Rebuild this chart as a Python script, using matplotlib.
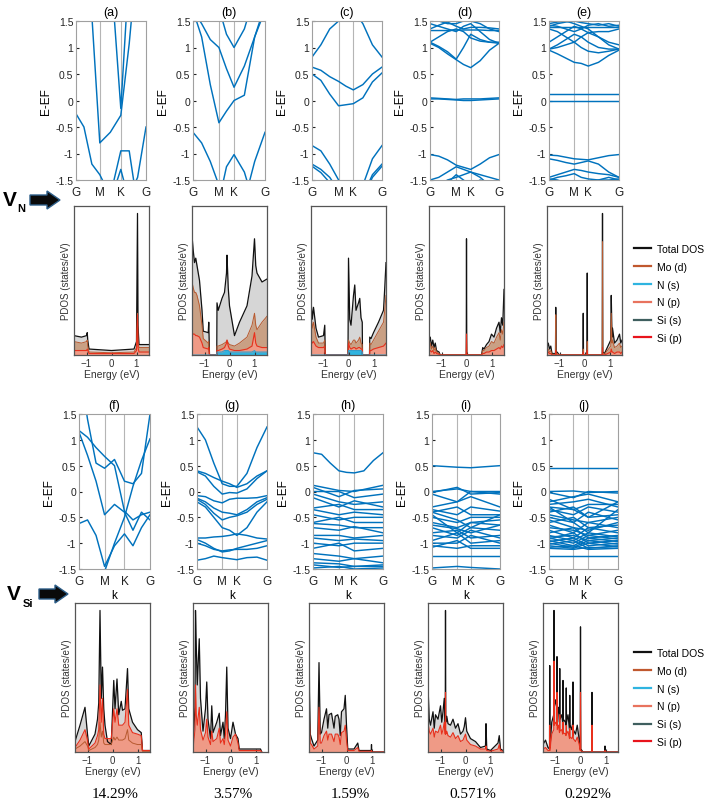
import matplotlib
matplotlib.use('Agg')
import matplotlib.pyplot as plt
from matplotlib.lines import Line2D
from matplotlib.patches import FancyArrow

plt.rcParams['font.family'] = ['Liberation Sans', 'DejaVu Sans']

W, H = 709, 803

# ---------------- band structures (E - EF, eV) ----------------
# 9 values: G, G-M 1/3, G-M 2/3, M, M-K mid, K, K-G 1/3, K-G 2/3, G
# 4 values: G, M, K, G
bands_a = [
    [-0.25, -0.5, -1.2, -1.4, -1.8, -1.9, -1.8, -1.45, -0.5],
    [6, 4, 1.6, -0.8, -0.6, -0.28, 1.07, 2.8, 5],
    [6, 5, 4, 3.5, 2.6, -0.15, 2.5, 4.5, 6],
    [-3, -3, -3, -2.5, -1.8, -0.95, -0.95, -2.0, -3],
    [-3, -3, -3, -2.5, -1.9, -1.3, -1.9, -3, -3],
]
bands_b = [
    [1.7, 1.45, 1.15, 1.0, 0.6, 0.25, 0.65, 1.2, 1.7],
    [4, 3.5, 2.8, 1.75, 1.25, 1.0, 1.35, 2.0, 3],
    [1.7, 1.2, 0.3, -0.42, -0.2, 0.0, 0.1, 1.2, 1.8],
    [-0.6, -0.8, -1.15, -1.6, -1.9, -2.0, -1.9, -1.15, -0.6],
    [-3, -3, -3, -1.9, -1.25, -1.02, -1.35, -2.0, -3],
]
bands_c = [
    [0.82, 1.05, 1.35, 1.5, 1.7, 1.7, 1.45, 1.05, 0.82],
    [0.63, 0.57, 0.45, 0.36, 0.27, 0.2, 0.3, 0.5, 0.63],
    [0.5, 0.38, 0.12, -0.1, -0.08, -0.06, 0.05, 0.35, 0.52],
    [-0.85, -0.95, -1.2, -1.5, -1.8, -1.9, -1.6, -1.1, -0.85],
    [-1.2, -1.3, -1.45, -1.7, -2.0, -2.0, -1.8, -1.4, -1.2],
    [-1.24, -1.36, -1.55, -1.8, -2.0, -2.0, -1.85, -1.45, -1.24],
]
bands_d = [
    [0.03, 0.03, 0.02, 0.01, 0.0, 0.0, 0.01, 0.02, 0.03],
    [0.05, 0.04, 0.03, 0.02, 0.03, 0.03, 0.03, 0.04, 0.05],
    [-1.02, -1.05, -1.12, -1.22, -1.26, -1.3, -1.2, -1.08, -1.02],
    [-1.5, -1.45, -1.35, -1.25, -1.3, -1.35, -1.4, -1.45, -1.5],
    [-1.7, -1.6, -1.5, -1.45, -1.4, -1.35, -1.45, -1.6, -1.7],
    [-1.8, -1.7, -1.55, -1.4, -1.5, -1.6, -1.5, -1.55, -1.6],
    [1.08, 1.0, 0.88, 0.77, 0.68, 0.62, 0.75, 0.95, 1.08],
    [1.1, 1.02, 0.92, 0.78, 1.0, 1.25, 1.15, 1.1, 1.08],
    [1.32, 1.32, 1.32, 1.33, 1.33, 1.33, 1.33, 1.32, 1.32],
    [1.1, 1.2, 1.3, 1.35, 1.3, 1.18, 1.12, 1.1, 1.1],
    [1.35, 1.42, 1.48, 1.4, 1.35, 1.38, 1.38, 1.37, 1.35],
    [1.45, 1.4, 1.35, 1.3, 1.4, 1.45, 1.3, 1.15, 1.08],
    [1.5, 1.5, 1.45, 1.45, 1.5, 1.5, 1.45, 1.35, 1.3],
]
bands_e = [
    [0.12, 0.12, 0.12, 0.12, 0.12, 0.12, 0.12, 0.12, 0.12],
    [0.0, 0.0, 0.0, 0.0, 0.0, 0.0, 0.0, 0.0, 0.0],
    [-1.03, -1.04, -1.07, -1.1, -1.11, -1.12, -1.08, -1.04, -1.02],
    [-1.1, -1.13, -1.17, -1.2, -1.17, -1.14, -1.2, -1.35, -1.45],
    [-1.45, -1.4, -1.35, -1.3, -1.32, -1.35, -1.38, -1.4, -1.45],
    [-1.5, -1.45, -1.42, -1.38, -1.45, -1.48, -1.5, -1.5, -1.48],
    [-1.48, -1.5, -1.55, -1.6, -1.6, -1.55, -1.5, -1.45, -1.5],
    [0.95, 0.88, 0.8, 0.72, 0.7, 0.65, 0.72, 0.85, 0.95],
    [0.97, 1.0, 1.05, 1.1, 1.0, 0.93, 0.9, 0.93, 0.97],
    [0.97, 1.05, 1.15, 1.25, 1.2, 1.1, 1.0, 0.97, 0.97],
    [1.35, 1.3, 1.2, 1.1, 1.2, 1.28, 1.3, 1.3, 1.35],
    [1.38, 1.38, 1.38, 1.38, 1.38, 1.38, 1.38, 1.38, 1.38],
    [1.42, 1.4, 1.35, 1.3, 1.35, 1.42, 1.45, 1.4, 1.42],
    [1.45, 1.48, 1.5, 1.45, 1.4, 1.35, 1.2, 1.05, 0.97],
    [1.4, 1.45, 1.48, 1.5, 1.47, 1.45, 1.42, 1.45, 1.4],
    [1.1, 1.2, 1.3, 1.4, 1.35, 1.28, 1.2, 1.1, 1.05],
]
bands_f = [
    [2.5, 1.4, 0.55, 0.45, 0.62, 0.2, 0.15, 0.35, 1.5],
    [1.18, 1.05, 0.85, 0.68, 0.5, -0.38, -0.55, -0.45, -0.4],
    [1.15, 0.7, 0.2, -0.45, -0.25, -0.4, -0.75, -0.4, -0.55],
    [-0.62, -0.55, -0.85, -1.45, -1.05, -0.82, -1.05, -0.7, -0.45],
    [-4, -3, -2.2, -1.55, -1.0, -0.5, 0.1, 0.6, 1.02],
]
bands_g = [
    [1.25, 1.0, 0.55, 0.15, 0.1, 0.1, 0.35, 0.85, 1.25],
    [0.4, 0.35, 0.27, 0.2, 0.15, 0.08, 0.15, 0.3, 0.4],
    [0.38, 0.3, 0.1, -0.05, -0.02, -0.03, 0.05, 0.25, 0.4],
    [-0.08, -0.1, -0.18, -0.22, -0.15, -0.13, -0.13, -0.12, -0.08],
    [-0.13, -0.2, -0.32, -0.4, -0.42, -0.45, -0.35, -0.2, -0.12],
    [-0.15, -0.25, -0.42, -0.55, -0.5, -0.47, -0.4, -0.25, -0.15],
    [-0.2, -0.3, -0.5, -0.7, -0.75, -0.85, -0.7, -0.4, -0.2],
    [-0.9, -0.9, -0.88, -0.87, -0.85, -0.82, -0.85, -0.9, -0.92],
    [-0.93, -1.0, -1.1, -1.17, -1.15, -1.1, -1.05, -1.0, -0.95],
    [-1.0, -1.05, -1.12, -1.15, -1.13, -1.12, -1.12, -1.1, -1.05],
    [-1.33, -1.3, -1.25, -1.28, -1.3, -1.32, -1.28, -1.27, -1.33],
]
bands_h = [
    [0.75, 0.72, 0.55, 0.4, 0.37, 0.36, 0.4, 0.6, 0.75],
    [0.12, 0.02, 0.0, 0.12], [0.08, -0.1, 0.02, 0.05], [0.0, 0.0, -0.12, -0.05],
    [-0.05, -0.2, -0.25, -0.2], [-0.12, -0.3, -0.18, -0.3], [-0.32, -0.25, -0.35, -0.35],
    [-0.35, -0.45, -0.4, -0.45], [-0.45, -0.55, -0.5, -0.5], [-0.6, -0.5, -0.6, -0.6],
    [-0.62, -0.65, -0.7, -0.7], [-0.7, -0.75, -0.68, -0.8], [-0.85, -0.85, -0.9, -0.85],
    [-0.9, -0.95, -0.92, -0.95], [-1.0, -1.05, -1.0, -1.0], [-1.1, -1.0, -1.15, -1.1],
    [-1.2, -1.25, -1.3, -1.25], [-1.3, -1.35, -1.3, -1.38], [-1.38, -1.4, -1.45, -1.42],
    [-1.42, -1.47, -1.45, -1.45], [-1.48, -1.45, -1.5, -1.48],
]
bands_i = [
    [0.5, 0.47, 0.46, 0.5], [0.0, 0.05, 0.0, 0.0], [-0.02, 0.08, -0.05, -0.02],
    [-0.05, -0.2, 0.0, -0.05], [-0.3, -0.2, -0.1, -0.3], [-0.35, -0.45, -0.3, -0.38],
    [-0.4, -0.3, -0.45, -0.45], [-0.5, -0.6, -0.5, -0.5], [-0.6, -0.7, -0.6, -0.55],
    [-0.65, -0.72, -0.8, -0.65], [-0.7, -0.85, -0.7, -0.75], [-0.8, -0.75, -0.9, -0.85],
    [-0.85, -0.9, -0.75, -0.9], [-0.95, -0.8, -1.0, -0.95], [-1.0, -1.0, -0.85, -1.0],
    [-1.05, -1.1, -1.05, -1.05], [-1.08, -0.95, -1.1, -1.1], [-1.25, -1.25, -1.25, -1.25],
    [-1.48, -1.45, -1.47, -1.5], [-0.4, -0.55, -0.7, -0.45], [-0.45, -0.8, -0.6, -0.65],
]
bands_j = [
    [0.46, 0.46, 0.46, 0.46], [0.0, 0.01, -0.02, 0.0], [-0.02, -0.12, 0.0, -0.03],
    [-0.2, -0.1, -0.05, -0.2], [-0.25, -0.2, -0.15, -0.3], [-0.3, -0.35, -0.25, -0.25],
    [-0.35, -0.45, -0.3, -0.4], [-0.4, -0.3, -0.5, -0.45], [-0.45, -0.55, -0.6, -0.5],
    [-0.5, -0.6, -0.4, -0.55], [-0.55, -0.7, -0.75, -0.6], [-0.6, -0.5, -0.7, -0.65],
    [-0.65, -0.8, -0.6, -0.7], [-0.7, -0.75, -0.85, -0.75], [-0.75, -0.9, -0.7, -0.8],
    [-0.8, -0.7, -0.9, -0.85], [-0.85, -0.95, -0.8, -0.88], [-0.88, -0.85, -0.95, -0.9],
    [-0.9, -1.0, -0.85, -0.92], [-0.92, -0.8, -1.0, -0.95], [-0.95, -1.05, -0.9, -0.97],
    [-0.97, -0.9, -1.05, -1.0], [-1.0, -1.08, -0.95, -1.02], [-1.02, -0.95, -1.1, -1.05],
    [-1.05, -1.1, -1.0, -1.07], [-1.08, -1.05, -1.12, -1.1], [-1.1, -1.12, -1.08, -1.1],
    [-1.25, -1.25, -1.25, -1.25], [-0.15, -0.35, -0.5, -0.2], [-0.3, -0.6, -0.8, -0.35],
]

# high-symmetry point positions (fraction of path) per panel: (M, K)
kpts = {'a': (0.34, 0.64), 'b': (0.36, 0.57), 'c': (0.38, 0.59), 'd': (0.38, 0.59),
        'e': (0.36, 0.56), 'f': (0.36, 0.64), 'g': (0.36, 0.57), 'h': (0.37, 0.59),
        'i': (0.37, 0.57), 'j': (0.355, 0.57)}

# ---------------- PDOS (arbitrary units, % of axis height) ----------------
E_a = [-1.5, -1.2, -1.0, -0.97, -0.95, -0.9, 0, 0.9, 1.0, 1.04, 1.06, 1.1, 1.5]
tot_a = [13, 12, 13, 15, 10, 4, 3, 4, 9, 95, 20, 7, 7]
mod_a = [9, 8, 9, 10, 6, 2, 1.5, 2, 5, 28, 8, 5, 5]
red_a = [3, 3, 3, 4, 3, 1, 1, 1, 3, 27, 5, 2, 2]

E_b = [-1.5, -1.45, -1.4, -1.35, -1.3, -1.2, -1.1, -1.05, -0.85, -0.83, -0.8, -0.79, -0.51,
       -0.5, -0.45, -0.3, -0.2, -0.12, -0.1, -0.05, 0.0, 0.2, 0.4, 0.7, 0.9, 1.0, 1.05, 1.1, 1.3, 1.5]
tot_b = [80, 70, 62, 65, 60, 50, 30, 16, 15, 22, 0, 0, 0, 35, 30, 38, 42, 55, 67, 45, 33, 13,
         22, 33, 53, 78, 60, 55, 49, 51]
mod_b = [49, 45, 42, 42, 40, 33, 20, 11, 8, 9, 0, 0, 0, 6, 6, 7, 8, 9, 10, 8, 7, 6, 8, 12, 20,
         28, 20, 17, 22, 26]
red_b = [15, 14, 14, 13, 13, 12, 8, 5, 4, 5, 0, 0, 0, 3, 3, 4, 5, 8, 10, 6, 4, 3, 3, 4, 6, 15,
         8, 6, 5, 5]
ns_b = [0, 0, 0, 0, 0, 0, 0, 0, 0, 0, 0, 0, 0, 2, 2, 2, 3, 3, 3, 3, 2, 2, 2, 2, 2, 3, 2, 2, 2, 2]

E_c = [-1.5, -1.45, -1.4, -1.3, -1.2, -1.0, -0.95, -0.93, -0.92, -0.02, 0.0, 0.05, 0.1, 0.2,
       0.25, 0.3, 0.4, 0.45, 0.5, 0.55, 0.56, 0.84, 0.85, 0.9, 1.0, 1.2, 1.4, 1.45, 1.5]
tot_c = [37, 24, 32, 18, 12, 13, 20, 0, 0, 0, 65, 24, 20, 40, 47, 30, 35, 38, 25, 22, 0, 0,
         12, 11, 15, 22, 30, 45, 62]
mod_c = [28, 18, 22, 12, 8, 8, 10, 0, 0, 0, 10, 8, 7, 10, 10, 8, 10, 12, 8, 7, 0, 0, 8, 7, 10,
         16, 22, 30, 40]
red_c = [10, 8, 9, 6, 5, 5, 6, 0, 0, 0, 8, 5, 4, 5, 5, 4, 5, 5, 4, 4, 0, 0, 3, 3, 4, 5, 6, 7, 8]
ns_c = [0, 0, 0, 0, 0, 0, 0, 0, 0, 0, 3, 3, 3, 3, 3, 3, 3, 3, 3, 2, 0, 0, 0, 0, 0, 0, 0, 0, 0]

E_d = [-1.5, -1.45, -1.4, -1.35, -1.3, -1.25, -1.2, -1.1, -1.05, -0.02, -0.01, 0.0, 0.01, 0.02,
       0.6, 0.65, 0.7, 0.8, 0.9, 1.0, 1.1, 1.2, 1.3, 1.35, 1.4, 1.45, 1.5]
tot_d = [8, 12, 6, 10, 5, 8, 3, 2, 0, 0, 0, 78, 0, 0, 0, 5, 4, 7, 9, 14, 12, 18, 22, 15, 25, 20, 44]
mod_d = [5, 8, 4, 6, 3, 5, 2, 1, 0, 0, 0, 14, 0, 0, 0, 3, 3, 5, 6, 9, 8, 12, 15, 10, 17, 14, 22]
red_d = [2, 3, 2, 3, 1, 2, 1, 0.5, 0, 0, 0, 14, 0, 0, 0, 1, 1, 2, 2, 3, 3, 4, 5, 4, 6, 5, 7]

E_e = [-1.5, -1.45, -1.4, -1.35, -1.3, -1.16, -1.15, -1.14, -1.1, -1.0, -0.06, -0.05, -0.04,
       0.10, 0.11, 0.12, 0.71, 0.72, 0.73, 0.8, 1.05, 1.07, 1.1, 1.12, 1.2, 1.3, 1.4, 1.45, 1.5]
tot_e = [5, 8, 4, 6, 1, 1, 32, 1, 2, 0, 0, 28, 0, 0, 55, 0, 0, 95, 2, 1, 10, 40, 12, 18, 8, 10,
         14, 8, 10]
mod_e = [3, 4, 2, 3, 0.5, 0.5, 27, 0.5, 1, 0, 0, 4, 0, 0, 9, 0, 0, 76, 1, 0.5, 6, 28, 8, 10, 5,
         6, 8, 5, 6]
red_e = [1, 2, 1, 1, 0, 0, 3, 0, 0, 0, 0, 2, 0, 0, 3, 0, 0, 5, 0, 0, 2, 4, 2, 2, 1, 2, 2, 1, 2]

E_f = [-1.5, -1.3, -1.1, -1.0, -0.95, -0.7, -0.6, -0.55, -0.5, -0.45, -0.4, -0.35, -0.3, -0.2,
       -0.05, 0.05, 0.1, 0.18, 0.25, 0.35, 0.4, 0.5, 0.6, 0.65, 0.8, 1.0, 1.15, 1.2, 1.5]
tot_f = [7, 18, 30, 12, 4, 12, 22, 33, 95, 36, 57, 29, 18, 7, 5, 48, 29, 49, 25, 34, 28, 29, 56,
         29, 20, 15, 13, 1, 1]
mod_f = [2, 4, 7, 4, 1, 3, 5, 8, 20, 10, 14, 6, 5, 5, 5, 10, 8, 10, 8, 8, 8, 9, 15, 8, 6, 5, 5,
         0.5, 0.5]
red_f = [3, 8, 15, 8, 2, 6, 11, 15, 45, 20, 36, 12, 9, 9, 9, 29, 20, 29, 18, 18, 18, 20, 42, 18,
         13, 12, 11, 1, 1]

E_g = [-1.5, -1.42, -1.4, -1.37, -1.33, -1.25, -1.2, -1.1, -1.0, -0.95, -0.9, -0.8, -0.75, -0.7,
       -0.55, -0.45, -0.4, -0.3, -0.25, -0.2, -0.15, -0.1, 0.0, 0.1, 0.2, 0.3, 0.35, 1.2, 1.25]
tot_g = [4, 30, 95, 72, 45, 76, 36, 14, 29, 47, 22, 9, 31, 13, 20, 26, 11, 20, 9, 25, 57, 16, 9,
         20, 12, 9, 2, 2, 0]
red_g = [2, 15, 45, 25, 18, 30, 15, 8, 13, 22, 10, 5, 14, 7, 9, 16, 6, 9, 5, 12, 27, 8, 4, 10,
         12, 6, 1, 1, 0]

E_h = [-1.5, -1.48, -1.45, -1.4, -1.3, -1.15, -1.1, -1.05, -1.0, -0.9, -0.8, -0.75, -0.7, -0.6,
       -0.5, -0.45, -0.35, -0.3, -0.25, -0.2, -0.1, -0.05, 0.0, 0.05, 0.3, 0.45, 0.5, 0.7, 0.99,
       1.0, 1.01, 1.5]
tot_h = [95, 40, 12, 9, 4, 8, 60, 12, 13, 22, 29, 16, 25, 26, 16, 24, 25, 22, 11, 27, 29, 38, 18,
         2, 2, 6, 1, 1, 1, 5, 0, 0]
red_h = [49, 20, 6, 5, 2, 4, 30, 6, 6, 11, 14, 8, 12, 12, 7, 12, 12, 10, 5, 13, 14, 18, 8, 1, 1,
         3, 0.5, 0.5, 0.5, 1, 0, 0]

E_i = [-1.5, -1.45, -1.4, -1.3, -1.25, -1.2, -1.1, -1.0, -0.95, -0.9, -0.85, -0.81, -0.8, -0.79,
       -0.75, -0.7, -0.6, -0.5, -0.4, -0.3, -0.2, -0.1, -0.05, 0.0, 0.05, 0.2, 0.4, 0.6, 0.8,
       0.82, 0.85, 1.0, 1.3, 1.35, 1.4, 1.5]
tot_i = [44, 22, 18, 27, 16, 25, 22, 31, 20, 27, 36, 20, 95, 20, 24, 19, 18, 22, 16, 19, 12, 14,
         17, 23, 14, 9, 7, 3, 4, 19, 2, 1, 6, 11, 2, 1]
red_i = [20, 14, 12, 16, 10, 14, 13, 18, 12, 15, 20, 12, 40, 12, 14, 11, 10, 13, 9, 11, 7, 8, 10,
         12, 8, 5, 4, 2, 2, 4, 1, 0.5, 2, 5, 1, 0.5]

E_j = [-1.5, -1.4, -1.3, -1.24, -1.23, -1.22, -1.15, -1.07, -1.06, -1.05, -1.0, -0.95, -0.94,
       -0.93, -0.88, -0.84, -0.83, -0.82, -0.75, -0.71, -0.7, -0.69, -0.6, -0.58, -0.57, -0.56,
       -0.5, -0.44, -0.43, -0.42, -0.35, -0.31, -0.3, -0.29, -0.2, -0.13, -0.05, -0.01, 0.0,
       0.01, 0.1, 0.45, 0.46, 0.47, 0.97, 0.98, 0.99, 1.5]
tot_j = [5, 8, 3, 2, 58, 3, 20, 25, 95, 30, 35, 30, 64, 25, 30, 20, 56, 22, 25, 20, 48, 22, 20,
         18, 43, 20, 25, 15, 38, 18, 15, 20, 47, 15, 12, 18, 8, 2, 84, 2, 0, 0, 40, 0, 0, 4, 0, 0]
red_j = [2, 3, 1, 1, 18, 1, 12, 15, 61, 18, 20, 18, 40, 15, 18, 13, 25, 14, 15, 12, 20, 13, 12,
         11, 18, 12, 14, 9, 16, 10, 9, 11, 18, 9, 7, 10, 5, 1, 40, 1, 0, 0, 18, 0, 0, 1, 0, 0]

percents = ['14.29%', '3.57%', '1.59%', '0.571%', '0.292%']
legend_labels = ['Total DOS', 'Mo (d)', 'N (s)', 'N (p)', 'Si (s)', 'Si (p)']
legend_colors = ['#111111', '#c0582e', '#2fb4e0', '#e8735e', '#3f5f5f', '#e8141c']

BAND_COLOR = '#0072BD'

fig = plt.figure(figsize=(W / 100, H / 100), dpi=100)


def px_axes(l, t, w, h):
    return fig.add_axes([l / W, 1 - (t + h) / H, w / W, h / H])


def draw_bands(ax, bands, key, show_k):
    M, K = kpts[key]
    fine = [0, M / 3, 2 * M / 3, M, (M + K) / 2, K, K + (1 - K) / 3, K + 2 * (1 - K) / 3, 1]
    for b in bands:
        k = fine if len(b) == 9 else [0, M, K, 1]
        ax.plot(k, b, color=BAND_COLOR, lw=1.05)
    ax.axvline(M, color='#b5b5b5', lw=0.8, zorder=0)
    ax.axvline(K, color='#b5b5b5', lw=0.8, zorder=0)
    ax.set_xlim(0, 1)
    ax.set_ylim(-1.5, 1.5)
    ax.set_xticks([0, M, K, 1])
    ax.set_xticklabels(['G', 'M', 'K', 'G'])
    ax.set_yticks([-1.5, -1, -0.5, 0, 0.5, 1, 1.5])
    ax.set_yticklabels(['-1.5', '-1', '-0.5', '0', '0.5', '1', '1.5'])
    ax.tick_params(axis='x', length=0, labelsize=8.5, pad=4, colors='#222222')
    ax.tick_params(axis='y', direction='in', length=2, labelsize=7.5, pad=2, colors='#222222')
    for s in ax.spines.values():
        s.set_color('#a0a0a0')
        s.set_linewidth(0.8)
    ax.set_ylabel('E-EF', fontsize=8.5, labelpad=2)
    ax.set_title('(%s)' % key, fontsize=9, pad=4)
    if show_k:
        ax.set_xlabel('k', fontsize=8.5, labelpad=2)


def draw_pdos(ax, E, tot, red, mod=None, ns=None):
    ax.fill_between(E, tot, color='#d6d6d6', lw=0)
    if mod is not None:
        ax.fill_between(E, mod, color='#c9a084', lw=0)
    ax.fill_between(E, red, color='#ef9a86', lw=0)
    ax.plot(E, tot, color='#111111', lw=0.9)
    if mod is not None:
        ax.plot(E, mod, color='#b85a30', lw=0.7)
    ax.plot(E, red, color='#e8301c', lw=0.8)
    if ns is not None:
        ax.fill_between(E, ns, color='#2fb4e0', lw=0)
        ax.plot(E, ns, color='#2a9fd0', lw=0.7)
    ax.set_xlim(-1.5, 1.5)
    ax.set_ylim(0, 100)
    ax.set_yticks([])
    ax.set_xticks([-1, 0, 1])
    ax.set_xticklabels(['\u22121', '0', '1'])
    ax.tick_params(axis='x', direction='in', length=2, labelsize=7, pad=2, colors='#333333')
    for s in ax.spines.values():
        s.set_color('#555555')
        s.set_linewidth(0.9)
    ax.set_xlabel('Energy (eV)', fontsize=7.5, labelpad=1, color='#333333')
    ax.set_ylabel('PDOS (states/eV)', fontsize=7, labelpad=2, color='#333333')


# top row band panels
top_band = [(76, 70, 'a', bands_a), (193, 72, 'b', bands_b), (312, 70, 'c', bands_c),
            (430, 69, 'd', bands_d), (549, 70, 'e', bands_e)]
for l, w, key, b in top_band:
    draw_bands(px_axes(l, 22, w, 159), b, key, False)

bot_band = [(79, 71, 'f', bands_f), (197, 70, 'g', bands_g), (313, 70, 'h', bands_h),
            (432, 68, 'i', bands_i), (549, 69, 'j', bands_j)]
for l, w, key, b in bot_band:
    draw_bands(px_axes(l, 415, w, 155), b, key, True)

# PDOS panels
top_pdos = [(74, E_a, tot_a, red_a, mod_a, None), (192, E_b, tot_b, red_b, mod_b, ns_b),
            (311, E_c, tot_c, red_c, mod_c, ns_c), (429, E_d, tot_d, red_d, mod_d, None),
            (547, E_e, tot_e, red_e, mod_e, None)]
for l, E, t, r, m, n in top_pdos:
    draw_pdos(px_axes(l, 207, 75, 149), E, t, r, m, n)

bot_pdos = [(75, E_f, tot_f, red_f, mod_f), (193, E_g, tot_g, red_g, None),
            (309, E_h, tot_h, red_h, None), (428, E_i, tot_i, red_i, None),
            (543, E_j, tot_j, red_j, None)]
for l, E, t, r, m in bot_pdos:
    draw_pdos(px_axes(l, 604, 75, 149), E, t, r, m)

# legends
handles = [Line2D([], [], color=c, lw=1.6) for c in legend_colors]
for ytop in (245, 649):
    fig.legend(handles, legend_labels, loc='upper left', bbox_to_anchor=(634 / W, 1 - ytop / H),
               frameon=False, fontsize=7.5, handlelength=1.6, handletextpad=0.6,
               labelspacing=0.75, borderpad=0, borderaxespad=0)

# percent labels
for x, txt in zip([115, 233, 350, 473, 588], percents):
    fig.text(x / W, 1 - 795 / H, txt, ha='center', va='center', fontsize=11,
             family='Liberation Serif')

# vacancy labels and arrows on an overlay in pixel coordinates
ov = fig.add_axes([0, 0, 1, 1], zorder=-1)
ov.set_xlim(0, W)
ov.set_ylim(H, 0)
ov.axis('off')
ov.text(10, 200, 'V', fontsize=15, fontweight='bold', ha='center', va='center')
ov.text(21, 209, 'N', fontsize=8, fontweight='bold', ha='center', va='center')
ov.add_patch(FancyArrow(30, 201, 17, 0, width=10, head_width=18, head_length=13,
                        length_includes_head=False, facecolor='#0a0a0a', edgecolor='#2e5f8a', lw=1))
ov.text(14, 595, 'V', fontsize=15, fontweight='bold', ha='center', va='center')
ov.text(28, 604, 'Si', fontsize=8, fontweight='bold', ha='center', va='center')
ov.add_patch(FancyArrow(39, 595, 16, 0, width=10, head_width=18, head_length=13,
                        length_includes_head=False, facecolor='#0a0a0a', edgecolor='#2e5f8a', lw=1))

fig.savefig('out.png', dpi=100)
